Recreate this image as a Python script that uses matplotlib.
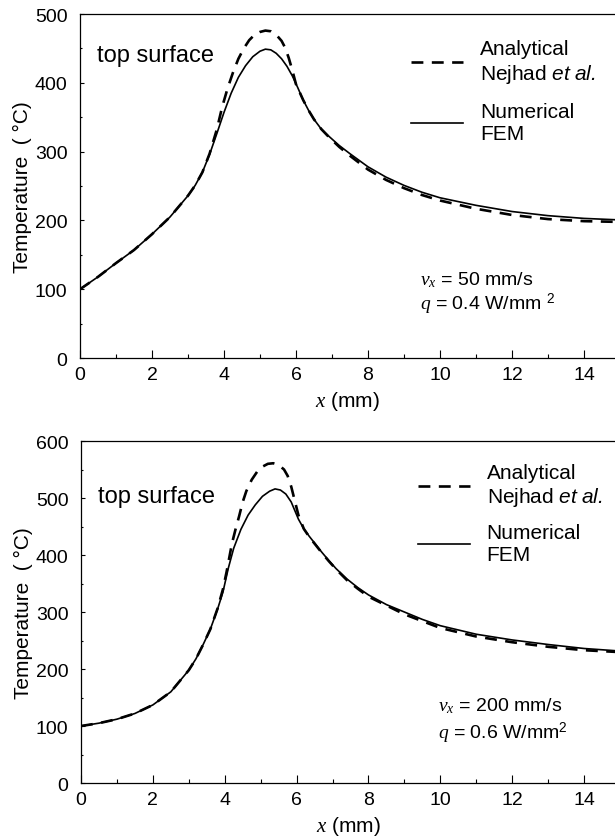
import numpy as np
import matplotlib
matplotlib.use("Agg")
import matplotlib.pyplot as plt
from matplotlib.ticker import MultipleLocator

plt.rcParams['font.family'] = ['Liberation Sans', 'DejaVu Sans']
plt.rcParams['mathtext.fontset'] = 'custom'
plt.rcParams['mathtext.rm'] = 'Liberation Sans'
plt.rcParams['mathtext.it'] = 'Liberation Serif:italic'
plt.rcParams['mathtext.sf'] = 'Liberation Sans:italic'

# top panel: v_x = 50 mm/s, q = 0.4 W/mm^2
x_fem_a = [0, 0.5, 1.0, 1.5, 2.0, 2.5, 3.0, 3.2, 3.4, 3.6, 3.8, 4.0, 4.2, 4.4, 4.6, 4.8, 5.0,
           5.15, 5.3, 5.45, 5.6, 5.75, 5.9, 6.05, 6.2, 6.35, 6.5, 6.7, 6.9, 7.2, 7.5, 8.0,
           8.5, 9.0, 9.5, 10.0, 11.0, 12.0, 13.0, 14.0, 14.9]
t_fem_a = [100, 118, 138, 157, 180, 205, 236, 251, 270, 296, 326, 357, 385, 408, 425, 438, 446,
           449, 448, 443, 435, 424, 410, 393, 375, 360, 347, 333, 323, 309, 297, 278,
           263, 251, 241, 233, 222, 213, 207, 203, 201]
x_ana_a = [0, 0.5, 1.0, 1.5, 2.0, 2.5, 3.0, 3.2, 3.4, 3.6, 3.8, 3.95, 4.1, 4.25, 4.4, 4.55,
           4.7, 4.85, 5.0, 5.15, 5.3, 5.45, 5.6, 5.7, 5.8, 5.9, 6.0, 6.2, 6.35, 6.5, 6.7, 6.9,
           7.2, 7.5, 8.0, 8.5, 9.0, 9.5, 10.0, 11.0, 12.0, 13.0, 14.0, 14.9]
t_ana_a = [100, 118, 138, 157, 180, 205, 236, 251, 270, 297, 332, 365, 392, 415, 435, 450,
           462, 470, 474, 476, 475, 470, 461, 451, 436, 418, 398, 375, 360, 347, 333, 322,
           307, 294, 274, 259, 247, 237, 229, 217, 208, 202, 199, 198]

# bottom panel: v_x = 200 mm/s, q = 0.6 W/mm^2
x_fem_b = [0, 0.5, 1.0, 1.5, 2.0, 2.5, 3.0, 3.2, 3.4, 3.6, 3.8, 3.95, 4.1, 4.25, 4.45, 4.65,
           4.85, 5.05, 5.25, 5.4, 5.55, 5.7, 5.85, 5.95, 6.05, 6.2, 6.35, 6.5, 6.7, 6.9, 7.1,
           7.4, 7.7, 8.0, 8.5, 9.0, 9.5, 10.0, 11.0, 12.0, 13.0, 14.0, 14.9]
t_fem_b = [100, 105, 112, 122, 137, 160, 198, 218, 243, 270, 305, 335, 377, 412, 445, 470,
           488, 503, 512, 516, 514, 507, 493, 478, 463, 446, 433, 421, 405, 390, 376,
           358, 343, 330, 313, 300, 287, 276, 261, 251, 243, 236, 232]
x_ana_b = [0, 0.5, 1.0, 1.5, 2.0, 2.5, 3.0, 3.2, 3.4, 3.6, 3.8, 3.95, 4.05, 4.2, 4.3, 4.4,
           4.5, 4.6, 4.75, 4.9, 5.05, 5.2, 5.35, 5.5, 5.65, 5.75, 5.85, 5.95, 6.05, 6.2,
           6.35, 6.5, 6.7, 6.9, 7.1, 7.4, 7.7, 8.0, 9.0, 10.0, 11.0, 12.0, 13.0, 14.0, 14.9]
t_ana_b = [100, 105, 112, 122, 137, 160, 198, 218, 243, 270, 306, 340, 370, 420, 445, 468,
           493, 512, 532, 546, 555, 560, 561, 558, 550, 539, 520, 495, 470, 446,
           432, 420, 404, 389, 375, 356, 341, 327, 296, 272, 257, 247, 239, 233, 230]

panels = [
    dict(rect=[0.130, 0.571, 0.870, 0.411], ymax=500, xf=x_fem_a, tf=t_fem_a, xa=x_ana_a, ta=t_ana_a,
         ts_y=0.863, leg=(0.619, 0.927), spacing=0.85, ann_x=0.636, ann_y=(0.229, 0.160),
         ann=(r"$v_x$ = 50 mm/s", r"$q$ = 0.4 W/mm $^{2}$")),
    dict(rect=[0.1317, 0.0633, 0.8683, 0.4086], ymax=600, xf=x_fem_b, tf=t_fem_b, xa=x_ana_b, ta=t_ana_b,
         ts_y=0.822, leg=(0.631, 0.936), spacing=0.7, ann_x=0.669, ann_y=(0.228, 0.149),
         ann=(r"$v_x$ = 200 mm/s", r"$q$ = 0.6 W/mm$^{2}$")),
]

fig = plt.figure(figsize=(6.15, 8.37), dpi=100)

for p in panels:
    ax = fig.add_axes(p['rect'])
    ax.plot(p['xa'], p['ta'], color='black', lw=1.9, ls=(0, (4.5, 3.2)),
            label="Analytical\nNejhad $\\mathsf{et\\ al.}$")
    ax.plot(p['xf'], p['tf'], color='black', lw=1.2, label="Numerical\nFEM")
    ax.set_xlim(0, 14.86)
    ax.set_ylim(0, p['ymax'])
    ax.xaxis.set_major_locator(MultipleLocator(2))
    ax.xaxis.set_minor_locator(MultipleLocator(1))
    ax.yaxis.set_major_locator(MultipleLocator(100))
    ax.yaxis.set_minor_locator(MultipleLocator(50))
    ax.tick_params(which='both', direction='in', labelsize=14, width=0.8)
    ax.tick_params(axis='x', which='major', length=6, pad=6)
    ax.tick_params(axis='x', which='minor', length=3)
    ax.tick_params(axis='y', which='major', length=3, pad=9)
    ax.tick_params(axis='y', which='minor', length=1.5)
    ax.spines['right'].set_visible(False)
    for s in ['left', 'bottom', 'top']:
        ax.spines[s].set_linewidth(0.9)
    ax.set_xlabel("$x$ (mm)", fontsize=15, labelpad=4)
    ax.set_ylabel("Temperature  ( °C)", fontsize=15, labelpad=2)
    ax.text(0.032, p['ts_y'], "top surface", transform=ax.transAxes, fontsize=17,
            va='baseline', ha='left')
    ax.text(p['ann_x'], p['ann_y'][0], p['ann'][0], transform=ax.transAxes, fontsize=14,
            va='center', ha='left')
    ax.text(p['ann_x'], p['ann_y'][1], p['ann'][1], transform=ax.transAxes, fontsize=14,
            va='center', ha='left')
    ax.legend(loc='upper left', bbox_to_anchor=p['leg'], frameon=False, fontsize=15,
              borderpad=0, borderaxespad=0, handlelength=2.5, handletextpad=0.8,
              labelspacing=p['spacing'])

fig.savefig("out.png", dpi=100)
